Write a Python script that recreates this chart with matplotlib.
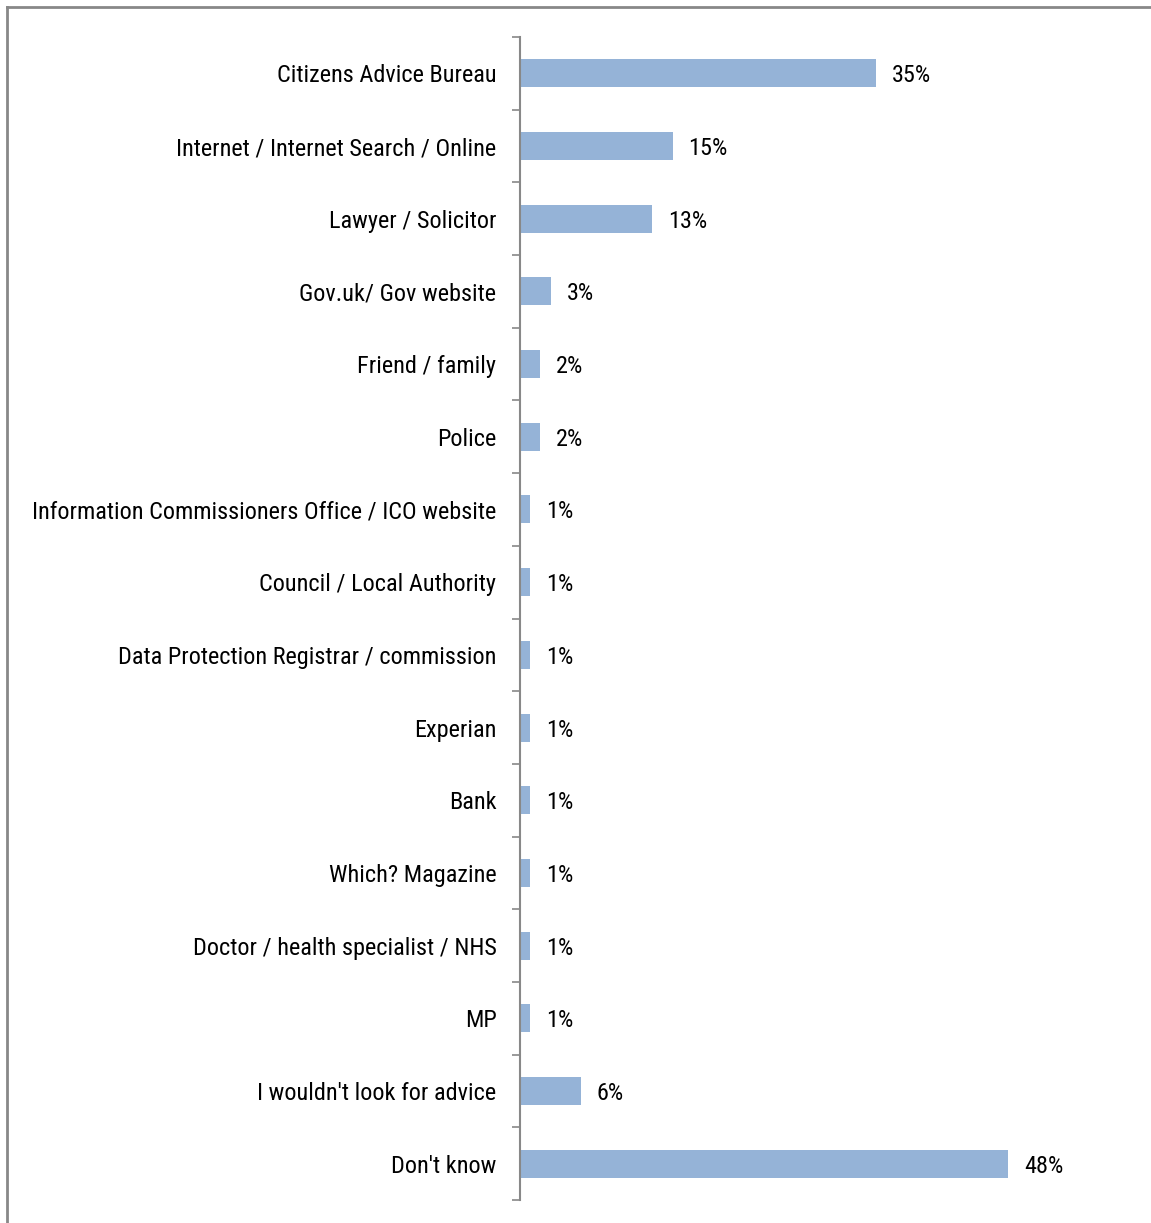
import matplotlib
matplotlib.use("Agg")
import matplotlib.pyplot as plt
from matplotlib import font_manager as fm
from matplotlib.lines import Line2D

categories = [
    "Citizens Advice Bureau",
    "Internet / Internet Search / Online",
    "Lawyer / Solicitor",
    "Gov.uk/ Gov website",
    "Friend / family",
    "Police",
    "Information Commissioners Office / ICO website",
    "Council / Local Authority",
    "Data Protection Registrar / commission",
    "Experian",
    "Bank",
    "Which? Magazine",
    "Doctor / health specialist / NHS",
    "MP",
    "I wouldn't look for advice",
    "Don't know",
]
values = [35, 15, 13, 3, 2, 2, 1, 1, 1, 1, 1, 1, 1, 1, 6, 48]
value_labels = [f"{v}%" for v in values]

names = {f.name for f in fm.fontManager.ttflist}
fam = "Liberation Sans"
for c in ["Liberation Sans Narrow", "Arial Narrow", "Roboto Condensed", "Archivo Narrow",
          "PT Sans Narrow", "Barlow Semi Condensed"]:
    if c in names:
        fam = c
        break
plt.rcParams["font.family"] = [fam, "DejaVu Sans"]

W, H = 1151, 1223
fig = plt.figure(figsize=(W / 100, H / 100), dpi=100)

# fit font size so the longest label is about 466 px wide, like the reference
probe = fig.text(0, 0, categories[6], fontsize=19)
renderer = fig.canvas.get_renderer()
wpx = probe.get_window_extent(renderer).width
probe.remove()
fs = max(14.0, min(22.0, 19 * 466 / wpx))

# figure border (top and left)
fig.add_artist(Line2D([7 / W, 7 / W], [0, 1 - 7 / H], transform=fig.transFigure, color="#888888", lw=2))
fig.add_artist(Line2D([7 / W, 1], [1 - 7 / H, 1 - 7 / H], transform=fig.transFigure, color="#888888", lw=2))

ax = fig.add_axes([520 / W, 23 / H, 610 / W, (1200 - 37) / H])
n = len(categories)
ypos = list(range(n))
ax.barh(ypos, values, height=0.385, color="#95B3D7")
ax.set_ylim(n - 0.5, -0.5)
ax.set_xlim(0, 60)

for y, v, lab in zip(ypos, values, value_labels):
    ax.annotate(lab, (v, y), xytext=(16, 0), textcoords="offset pixels",
                va="center_baseline", ha="left", fontsize=fs, color="black")

ax.set_yticks(ypos)
ax.set_yticklabels(categories, fontsize=fs, va="center_baseline")
ax.set_yticks([i - 0.5 for i in range(n + 1)], minor=True)
ax.tick_params(axis="y", which="major", length=0, pad=17)
ax.tick_params(axis="y", which="minor", length=6, width=1.2, color="#888888")
ax.set_xticks([])
for s in ["top", "right", "bottom"]:
    ax.spines[s].set_visible(False)
ax.spines["left"].set_color("#888888")
ax.spines["left"].set_linewidth(1.5)

fig.savefig("out.png", dpi=100)
